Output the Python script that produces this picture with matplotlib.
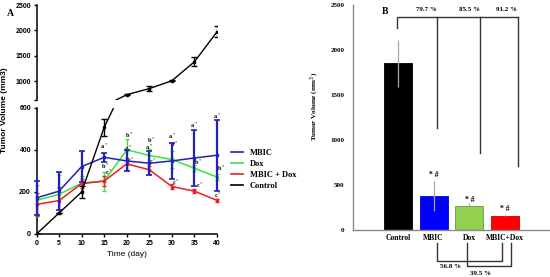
import matplotlib
matplotlib.use('Agg')
import matplotlib.pyplot as plt

# Panel A data: tumor volume over time
days = [0, 5, 10, 15, 20, 25, 30, 35, 40]
mbic = [172, 204, 321, 365, 348, 337, 348, 362, 375]
mbic_err = [80, 90, 75, 20, 50, 57, 85, 135, 170]
dox = [160, 189, 242, 252, 401, 374, 355, 313, 271]
dox_err = [75, 90, 35, 45, 50, 30, 40, 15, 15]
combo = [141, 159, 240, 252, 334, 306, 226, 204, 160]
combo_err = [55, 65, 20, 25, 30, 20, 10, 10, 8]
ctrl = [0, 100, 200, 508, 730, 850, 1005, 1380, 1970]
ctrl_err = [0, 0, 30, 40, 10, 55, 8, 90, 110]

# significance letters (x, y, text)
sig_x = [15, 15.2, 16, 20.6, 20.2, 20.9, 25.4, 24.9, 25.8, 30, 30.6, 30.8, 35.9, 36.1, 35, 41, 40.3, 40]
sig_y = [419, 323, 294, 472, 410, 353, 445, 415, 348, 464, 429, 246, 341, 231, 517, 312, 183, 562]
sig_txt = ['a*', 'b*', 'c*', 'b*', 'a*', 'c*', 'b*', 'a*', 'c*', 'a*', 'b*', 'c*', 'b*', 'c*', 'a*', 'b*', 'c*', 'a*']

# Panel B data: final tumor volume
groups = ['Control', 'MBIC', 'Dox', 'MBIC+Dox']
final_vol = [1850, 373, 265, 154]
final_err = [260, 170, 25, 8]
bar_colors = ['#000000', '#0000ff', '#92d050', '#ff0000']
star_y = [606, 328, 225]
top_pct = ['79.7 %', '85.5 %', '91.2 %']
bottom_pct = ['56.8 %', '39.5 %']

BLUE = '#2222b8'
GREEN = '#3ee03e'
RED = '#e82020'
SANS = 'Liberation Sans'
SERIF = 'Liberation Serif'

fig = plt.figure(figsize=(5.5, 2.77), dpi=100)

########################################################################
## Panel A - broken y axis
########################################################################
ax_lo = fig.add_axes([36.5/550, 43/277, 180.5/550, 126/277])
ax_hi = fig.add_axes([36.5/550, 1-100/277, 180.5/550, 95/277])

for ax in (ax_lo, ax_hi):
    for s in ('top', 'right'):
        ax.spines[s].set_visible(False)
    ax.spines['left'].set_linewidth(1.1)
    ax.tick_params(width=1, length=2.5, labelsize=5, pad=1.5)
    # control group spans both segments
    ax.errorbar(days, ctrl, yerr=ctrl_err, color='black', lw=1.0, elinewidth=1.0,
                capsize=2, marker='s', ms=1.8, zorder=5)

# treated groups only live in the lower segment
ax_lo.errorbar(days, dox, yerr=dox_err, color=GREEN, lw=1.1, elinewidth=1.0,
               capsize=1.5, marker='s', ms=1.5, clip_on=False, zorder=3)
ax_lo.errorbar(days, combo, yerr=combo_err, color=RED, lw=1.1, elinewidth=1.0,
               capsize=1.5, marker='s', ms=1.8, clip_on=False, zorder=3)
ax_lo.errorbar(days, mbic, yerr=mbic_err, color=BLUE, lw=1.1, elinewidth=1.6,
               capsize=2, capthick=1.2, marker='s', ms=1.5, clip_on=False, zorder=4)

ax_lo.set_xlim(0, 40)
ax_lo.set_ylim(0, 600)
ax_lo.set_xticks(days)
ax_lo.set_yticks([0, 200, 400, 600])
ax_lo.spines['bottom'].set_linewidth(1.1)
ax_lo.set_xlabel('Time (day)', fontsize=6, family=SANS, labelpad=3)

ax_hi.set_xlim(0, 40)
ax_hi.set_ylim(625, 2500)
ax_hi.set_yticks([625, 1000, 1500, 2000, 2500])
ax_hi.set_yticklabels(['', '1000', '1500', '2000', '2500'])
ax_hi.spines['bottom'].set_visible(False)
ax_hi.set_xticks([])
ax_hi.patch.set_alpha(0)

for ax in (ax_lo, ax_hi):
    for lbl in ax.get_xticklabels() + ax.get_yticklabels():
        lbl.set_fontweight('bold')
        lbl.set_family(SANS)

fig.text(4.5/550, 1-110/277, 'Tumor Volume (mm3)', rotation=90, ha='center', va='center',
         fontsize=6, family=SANS, fontweight='bold')
fig.text(10/550, 1-13/277, 'A', ha='center', va='center', fontsize=7, family=SERIF,
         fontweight='bold')

for x, y, t in zip(sig_x, sig_y, sig_txt):
    ax_lo.text(x, y, t[0] + '$^*$', ha='center', va='center', fontsize=4.5, family=SERIF,
               fontweight='bold', clip_on=False)

handles = [plt.Line2D([], [], color=c, lw=1.2) for c in (BLUE, GREEN, RED, 'black')]
fig.legend(handles, ['MBIC', 'Dox', 'MBIC + Dox', 'Control'], loc='upper left',
           bbox_to_anchor=(227/550, 1-145/277), frameon=False, borderpad=0,
           handlelength=1.4, handletextpad=0.8, labelspacing=0.35,
           prop={'family': SERIF, 'weight': 'bold', 'size': 6})

########################################################################
## Panel B - bar chart
########################################################################
axb = fig.add_axes([353/550, 1-229.5/277, 197/550, 224.5/277])
pos = list(range(len(groups)))
axb.bar(pos, final_vol, width=0.78, color=bar_colors, edgecolor=['black', '#0000cc', '#6a9a3a', '#cc0000'],
        linewidth=0.6, zorder=2)
axb.errorbar(pos, final_vol, yerr=final_err, fmt='none', ecolor='#a8a8a8', elinewidth=0.9,
             capsize=0, zorder=3)
axb.set_xlim(-1.26, 4.26)
axb.set_ylim(0, 2500)
axb.set_yticks([0, 500, 1000, 1500, 2000, 2500])
axb.set_xticks(pos)
axb.set_xticklabels(groups)
axb.tick_params(length=0, labelsize=5, pad=6)
axb.tick_params(axis='x', labelsize=5.5, pad=3)
for lbl in axb.get_xticklabels() + axb.get_yticklabels():
    lbl.set_fontweight('bold')
    lbl.set_family(SERIF)
for s in ('top', 'right'):
    axb.spines[s].set_visible(False)
for s in ('left', 'bottom'):
    axb.spines[s].set_color('#8a8a8a')
    axb.spines[s].set_linewidth(1.0)

fig.text(315/550, 1-106/277, 'Tumor Volume (mm$^3$)', rotation=90, ha='center', va='center',
         fontsize=5, family=SERIF, fontweight='bold')
fig.text(385/550, 1-12/277, 'B', ha='center', va='center', fontsize=7, family=SERIF,
         fontweight='bold')

for p, y in zip(pos[1:], star_y):
    axb.text(p, y, '* #', ha='center', va='center', fontsize=5.5, family=SERIF,
             fontweight='bold')

# top comparison brackets
kw = dict(color='#333333', lw=1.0, clip_on=False)
axb.plot([-0.04, -0.04, 3.37], [2240, 2370, 2370], **kw)
for xv, yb in zip([1.1, 2.3, 3.37], [1127, 849, 710]):
    axb.plot([xv, xv], [2370, yb], **kw)
for xv, t in zip([0.8, 2.0, 3.05], top_pct):
    axb.text(xv, 2420, t, ha='center', va='bottom', fontsize=5, family=SERIF, fontweight='bold')

# bottom comparison brackets
axb.plot([1.1, 1.1, 2.92, 2.92], [-154, -347, -347, -154], **kw)
axb.plot([1.93, 1.93, 3.16, 3.16], [-154, -406, -406, -154], **kw)
axb.text(1.46, -415, bottom_pct[0], ha='center', va='center', fontsize=5, family=SERIF,
         fontweight='bold', clip_on=False)
axb.text(2.3, -495, bottom_pct[1], ha='center', va='center', fontsize=5, family=SERIF,
         fontweight='bold', clip_on=False)

fig.savefig('out.png', dpi=100)
